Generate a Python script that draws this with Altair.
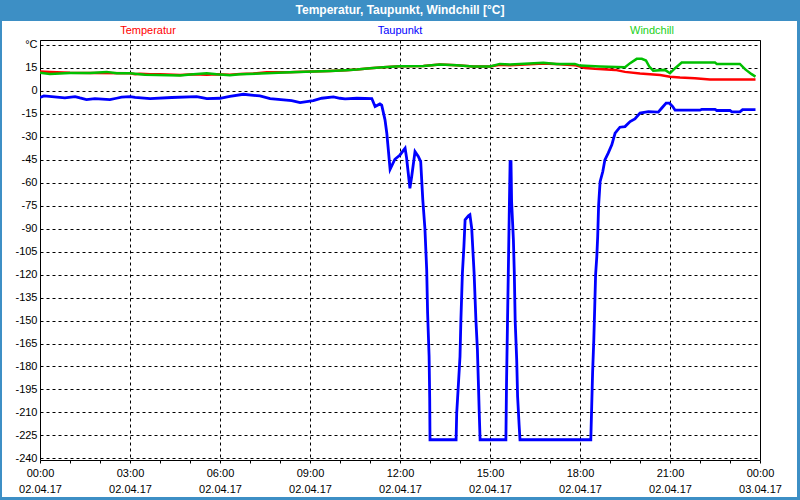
import json
import altair as alt
import pandas as pd

# ---------------- data (hours since 02.04.17 00:00, °C) ----------------
temp_hours = [0, 0.33, 1.0, 1.67, 3.0, 3.17, 3.33, 3.67, 4.0, 4.67, 5.11, 5.56, 5.89, 6.33,
              6.67, 7.11, 7.56, 8.33, 8.5, 9.67, 10.2, 10.56, 11.0, 11.44, 12.0, 12.78, 13.33,
              13.89, 14.44, 15.0, 15.33, 15.67, 16.78, 17.33, 17.83, 18.17, 18.5, 19.17, 19.5,
              20.0, 20.67, 21.0, 21.33, 21.83, 22.33, 23.85]
temp_values = [12.4, 12.2, 11.7, 11.5, 11.3, 10.6, 11.0, 10.6, 10.6, 10.2, 10.6, 10.4, 10.6, 10.4,
               10.9, 11.1, 12.0, 12.0, 12.2, 12.8, 13.3, 13.7, 14.6, 15.2, 15.9, 16.1, 17.0,
               16.6, 15.7, 15.7, 16.8, 16.6, 17.6, 17.2, 16.6, 14.8, 14.2, 13.5, 12.2,
               11.1, 10.2, 9.1, 8.5, 8.1, 7.2, 7.2]

dew_hours = [0, 0.13, 0.83, 1.17, 1.33, 1.55, 1.83, 2.33, 2.55, 2.72, 3.0, 3.17, 3.67, 4.39,
             5.22, 5.44, 5.56, 6.0, 6.33, 6.78, 7.33, 7.67, 8.39, 8.67, 9.11, 9.39, 9.78, 10.0,
             10.17, 10.56, 11.06, 11.17, 11.33, 11.39, 11.5, 11.56, 11.67, 11.83, 12.0, 12.17,
             12.22, 12.33, 12.39, 12.5, 12.61, 12.69, 12.76, 12.83, 12.89, 12.92, 12.97, 12.99,
             13.0, 13.87, 13.89, 13.94, 14.0, 14.03, 14.08, 14.13, 14.17, 14.28, 14.33, 14.39,
             14.47, 14.53, 14.58, 14.61, 14.64, 14.67, 15.53, 15.55, 15.58, 15.61, 15.64, 15.67,
             15.70, 15.72, 15.78, 15.81, 15.84, 15.89, 15.92, 15.97, 16.0, 18.36, 18.39, 18.42,
             18.46, 18.49, 18.52, 18.56, 18.59, 18.62, 18.67, 18.76, 18.83, 18.94, 19.06, 19.17,
             19.33, 19.5, 19.67, 19.83, 20.0, 20.28, 20.61, 20.72, 20.87, 20.98, 21.09, 21.17,
             22.0, 22.06, 22.5, 22.56, 23.0, 23.06, 23.33, 23.42, 23.85]
dew_values = [-4.5, -3.5, -4.8, -3.9, -4.8, -5.9, -5.3, -5.9, -5.0, -4.3, -3.9, -4.5, -5.3, -4.5,
              -3.9, -4.8, -5.3, -5.0, -3.7, -2.4, -3.5, -5.2, -6.5, -7.8, -6.5, -5.0, -4.1, -5.0,
              -5.4, -5.0, -5.2, -10.4, -8.7, -9.5, -19.1, -27.8, -51.3, -44.8, -42.0, -37.6,
              -44.0, -63.7, -56.0, -39.8, -43.0, -46.3, -71.3, -89.8, -117.0, -145.0, -173.5, -200.7,
              -227.8, -227.8, -210.4, -194.0, -173.5, -149.6, -119.0, -101.8, -84.3, -81.7, -81.0, -89.8,
              -119.0, -149.6, -169.0, -188.7, -209.4, -227.8, -227.8, -192.0, -155.0, -119.0, -82.2, -46.3,
              -46.3, -72.4, -97.4, -119.0, -150.7, -175.7, -199.6, -218.0, -227.8, -227.8, -206.0, -184.0,
              -162.6, -142.0, -120.0, -108.3, -95.0, -75.0, -59.4, -52.8, -45.2, -40.8, -35.4, -27.8,
              -23.9, -23.5, -20.2, -18.5, -14.7, -13.7, -14.0, -11.5, -8.2, -8.2, -10.4, -12.8,
              -12.8, -12.2, -12.2, -13.0, -13.0, -13.9, -13.9, -12.4, -12.4]

wind_hours = [0, 0.33, 1.0, 1.67, 2.22, 2.56, 3.0, 3.5, 4.67, 5.11, 5.56, 5.89, 6.33, 6.67, 7.56,
              8.33, 9.67, 10.2, 10.56, 11.0, 11.44, 12.0, 12.78, 13.33, 13.89, 14.44, 15.0, 15.33,
              15.67, 16.78, 17.22, 17.83, 18.0, 18.67, 19.5, 19.67, 19.89, 20.06, 20.2, 20.31,
              20.44, 20.83, 21.0, 21.17, 21.39, 22.5, 22.56, 23.33, 23.5, 23.72, 23.85]
wind_values = [11.7, 10.9, 11.5, 11.5, 12.2, 11.3, 11.3, 10.4, 9.8, 10.6, 11.3, 10.6, 10.0, 10.6, 11.3,
               12.0, 12.8, 13.3, 13.7, 14.6, 15.2, 15.9, 16.1, 17.0, 16.6, 15.7, 15.7, 17.4,
               17.0, 18.1, 17.4, 17.4, 16.3, 15.7, 15.2, 17.9, 20.7, 20.7, 19.6, 15.7,
               13.0, 13.5, 11.3, 14.6, 18.3, 18.3, 17.4, 17.4, 14.0, 10.7, 9.1]

series_names = ["Temperatur", "Taupunkt", "Windchill"]
line_colors = ["#ff0000", "#0000ff", "#00c000"]
legend_colors = ["#ff0000", "#0000ff", "#20d020"]

time_labels = ["00:00", "03:00", "06:00", "09:00", "12:00", "15:00", "18:00", "21:00", "00:00"]
date_labels = ["02.04.17"] * 8 + ["03.04.17"]
y_ticks = list(range(-240, 31, 15))
y_labels = [str(v) for v in y_ticks[:-1]] + ["°C"]

title_text = "Temperatur, Taupunkt, Windchill [°C]"

# ---------------- chart ----------------
FONT = "Liberation Sans"
FRAME = "#3d8fc5"

x_label_expr = (
    "datum.value % 3 == 0 ? [" + json.dumps(time_labels) + "[datum.value / 3], "
    + json.dumps(date_labels) + "[datum.value / 3]] : ''"
)
y_label_expr = json.dumps(y_labels, ensure_ascii=False) + "[(datum.value + 240) / 15]"

x_axis = alt.Axis(
    values=list(range(0, 25)),
    labelExpr=x_label_expr,
    labelOverlap=False, labelFlush=False, labelBound=False,
    labelFont=FONT, labelFontSize=11, labelColor="black",
    labelLineHeight=16, labelPadding=4,
    grid=True, gridColor="black", gridDash=[3, 3], gridWidth=1,
    gridOpacity={"condition": {"test": "datum.value % 3 == 0", "value": 1}, "value": 0},
    ticks=True, tickSize=3, tickColor="black",
    domain=False, title=None,
)
y_axis = alt.Axis(
    values=y_ticks,
    labelExpr=y_label_expr,
    labelOverlap=False, labelFlush=False, labelBound=False,
    labelFont=FONT, labelFontSize=11, labelColor="black", labelPadding=3,
    grid=True, gridColor="black", gridDash=[3, 3], gridWidth=1,
    ticks=False, domain=False, title=None,
)

x_scale = alt.Scale(domain=[0, 24], nice=False, zero=False)
y_scale = alt.Scale(domain=[-241, 33], nice=False, zero=False)


def series_line(hours, values, color, width):
    df = pd.DataFrame({"hour": hours, "value": values, "idx": range(len(hours))})
    return alt.Chart(df).mark_line(color=color, strokeWidth=width, clip=True).encode(
        x=alt.X("hour:Q", scale=x_scale, axis=x_axis),
        y=alt.Y("value:Q", scale=y_scale, axis=y_axis),
        order="idx:Q",
    )


one = alt.Data(values=[{}])


def deco_rect(x, x2, y, y2):
    return alt.Chart(one).mark_rect(color=FRAME).encode(
        x=alt.value(x), x2=alt.value(x2), y=alt.value(y), y2=alt.value(y2)
    )


title_bar = deco_rect(-40, 760, -40, -19)
left_border = deco_rect(-40, -38, -19, 460)
right_border = deco_rect(757, 760, -19, 460)
bottom_border = deco_rect(-40, 760, 457, 460)

title_mark = alt.Chart(one).mark_text(
    text=title_text, font=FONT, fontSize=12, fontWeight="bold", color="white",
    align="center", baseline="middle",
).encode(x=alt.value(360), y=alt.value(-30))

legend_x = [108, 360, 612]
legend_marks = [
    alt.Chart(one).mark_text(
        text=name, font=FONT, fontSize=11, color=col, align="center", baseline="middle"
    ).encode(x=alt.value(px), y=alt.value(-9))
    for name, col, px in zip(series_names, legend_colors, legend_x)
]

lines = [
    series_line(temp_hours, temp_values, line_colors[0], 2.5),
    series_line(dew_hours, dew_values, line_colors[1], 2.8),
    series_line(wind_hours, wind_values, line_colors[2], 2.5),
]

chart = alt.layer(
    *lines, title_bar, left_border, right_border, bottom_border, title_mark, *legend_marks
).properties(
    width=720, height=420,
    padding={"left": 40, "top": 40, "right": 40, "bottom": 40},
    autosize=alt.AutoSizeParams(type="none"),
    background="white",
).configure_view(stroke="black", strokeWidth=1)

chart.save("out.html", embed_options={"renderer": "svg", "actions": False})
